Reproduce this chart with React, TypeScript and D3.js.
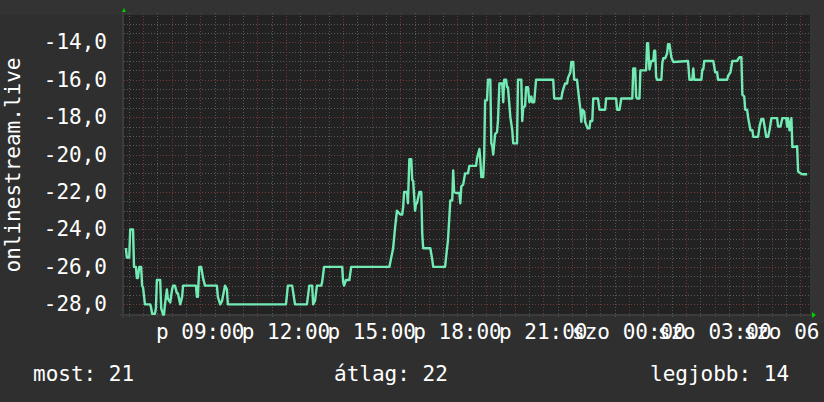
import React from "react";
import * as d3 from "d3";

// minutes after the start of the window (péntek 06:20)
const minutes = [
  4, 6, 11, 13, 19, 21, 25, 27, 29, 32, 36, 38, 40, 44, 55, 57, 59, 65, 67, 69, 76, 78, 82, 84, 86, 90, 92, 97,
  101, 103, 107, 111, 113, 118, 122, 124, 151, 153, 155, 158, 162, 166, 170, 195, 197, 202, 206, 212, 216, 218,
  340, 344, 353, 359, 384, 389, 395, 397, 401, 405, 414, 416, 420, 458, 460, 462, 466, 473, 477, 557, 561, 565,
  569, 573, 580, 584, 586, 588, 594, 596, 599, 603, 605, 607, 611, 613, 615, 620, 624, 626, 628, 643, 647, 649,
  674, 676, 680, 685, 689, 691, 693, 697, 704, 706, 708, 712, 716, 722, 725, 739, 741, 746, 748, 750, 754, 756,
  758, 762, 764, 769, 771, 773, 775, 779, 783, 785, 788, 794, 796, 798, 802, 804, 806, 811, 815, 817, 825, 827,
  834, 836, 838, 842, 844, 848, 851, 855, 857, 861, 865, 901, 903, 918, 920, 922, 926, 930, 932, 937, 939, 943,
  945, 951, 953, 958, 960, 962, 966, 968, 973, 977, 979, 983, 985, 995, 998, 1010, 1012, 1033, 1035, 1040, 1044,
  1067, 1069, 1073, 1075, 1077, 1082, 1084, 1096, 1098, 1100, 1103, 1107, 1111, 1113, 1115, 1117, 1119, 1128,
  1130, 1132, 1136, 1140, 1142, 1145, 1149, 1153, 1184, 1187, 1193, 1195, 1197, 1212, 1214, 1216, 1218, 1237,
  1241, 1245, 1247, 1266, 1268, 1273, 1277, 1287, 1289, 1292, 1296, 1298, 1302, 1304, 1308, 1310, 1315, 1319,
  1321, 1331, 1334, 1338, 1342, 1346, 1348, 1352, 1355, 1359, 1371, 1373, 1378, 1382, 1390, 1392, 1394, 1397,
  1401, 1403, 1413, 1415, 1420, 1424, 1434,
];

const values = [
  -25, -25.5, -25.5, -24, -24, -26, -26, -26.6, -26.6, -26, -26, -27, -27.1, -28, -28, -28.2, -28.5, -28.5, -28.2,
  -26.7, -26.7, -28.2, -28.55, -28.55, -28, -27.2, -27.7, -27.9, -27.2, -27, -27, -27.4, -27.4, -28, -27.6, -27,
  -27, -27.6, -27.6, -26, -26, -26.6, -27, -27, -27.6, -28, -27.8, -27, -27.2, -28,
  -28, -27, -27, -28, -28, -27, -27, -28, -27.8, -27, -27, -26.8, -26, -26, -26.8, -27, -26.7, -26.7, -26, -26,
  -25.5, -25, -23.9, -23, -23.2, -23.2, -22.8, -22, -22, -22.6, -20.25, -20.25, -21.35, -21.4, -23, -22.6, -22.6,
  -22, -22, -24.2, -25, -25, -25.6, -26, -26, -25.5, -24.6, -22.45, -22.45, -20.85, -22, -22.05, -22.05, -22.6,
  -21.7, -21.6, -21, -21, -20.6, -20.6, -20.2, -19.7, -20.3, -21.2, -21.2, -20.1, -17.1, -17.1, -16, -16, -19.4,
  -19.5, -20, -18.9, -18.8, -18.2, -16.2, -16.2, -17.2, -16, -16, -16.4, -16.4, -18, -18.7, -19.4, -19.4, -16,
  -16, -18.2, -17.5, -17.4, -16.4, -16.4, -17.2, -16.9, -17.2, -17.2, -16, -16, -17, -17, -16.7, -16.5, -16.2,
  -16.2, -15.9, -15.6, -15.05, -15.05, -16, -16, -16.5, -17.6, -18.25, -17.6, -17.7, -18.25, -18.6, -18.6, -18.2,
  -18.2, -17, -17, -17.6, -17.6, -17, -17, -17.6, -17.6, -17, -17, -15.4, -15.4, -16.9, -17, -17, -15.5, -15.5,
  -14.05, -14.05, -15.45, -15, -15, -14.45, -14.45, -15.85, -16, -16, -15.1, -14.85, -14.85, -14.6, -14.1, -14.1,
  -14.8, -15.05, -15, -16, -16, -15.4, -16, -16, -15.45, -15.45, -15, -15, -15.6, -15.6, -16, -16, -15.8, -15.6,
  -15, -15, -14.9, -14.8, -14.8, -16.8, -16.9, -17.6, -17.6, -18, -18.7, -18.7, -19.05, -19.05, -18.5, -18.1,
  -18.1, -18.7, -19.05, -19.05, -18.7, -18.05, -18.05, -18.5, -18.5, -18.05, -18.05, -18.5, -18.05, -18.7,
  -18.05, -19.6, -19.55, -20.9, -21, -21.05, -21.05,
];

const yTicks = [-28, -26, -24, -22, -20, -18, -16, -14];
const dayNames = ["v", "h", "k", "sze", "cs", "p", "szo"];
const axisTitle = "onlinestream.live";
const legendLabels = ["most: 21", "átlag: 22", "legjobb: 14"];

const W = 824;
const H = 402;
const L = 124;
const R = 810;
const T = 15;
const B = 315;

const start = new Date(2024, 0, 5, 6, 20);
const end = new Date(start.getTime() + 1440 * 60000);

export default function App() {
  const x = d3.scaleTime().domain([start, end]).range([L, R]);
  const y = d3.scaleLinear().domain([-28.57, -12.54]).range([B, T]);

  const pts = minutes.map((m, i) => [new Date(start.getTime() + m * 60000), values[i]] as [Date, number]);
  const line = d3
    .line<[Date, number]>()
    .x((d) => x(d[0]))
    .y((d) => y(d[1]));

  const minorX = d3.timeMinute.every(30)!.range(start, end);
  const majorX = d3.timeHour.range(start, end);
  const labelX = d3.timeHour.every(3)!.range(start, new Date(end.getTime() + 60000));
  const minorY = d3.range(-28.5, -12.5, 0.5);
  const fmtT = d3.timeFormat("%H:%M");
  const fmtY = (v: number) => d3.format(".1f")(v).replace(".", ",").replace("−", "-");

  const font = "'DejaVu Sans Mono', monospace";
  const minorC = "#585858";
  const majorC = "#733a3a";

  return (
    <svg width={W} height={H} style={{ position: "absolute", left: 0, top: 0 }} fontFamily={font}>
      <rect x={0} y={0} width={W} height={H} fill="#2f2f2f" />
      <rect x={0} y={0} width={W} height={T} fill="#333333" />
      <rect x={R} y={0} width={W - R} height={B + 8} fill="#333333" />
      <rect x={L} y={T} width={R - L} height={B - T} fill="#222222" />
      {minorY.map((v) => (
        <line key={"my" + v} x1={L} x2={R} y1={Math.round(y(v)) + 0.5} y2={Math.round(y(v)) + 0.5}
          stroke={yTicks.includes(v) ? majorC : minorC} strokeDasharray="1,2" strokeWidth={1} />
      ))}
      {minorX.map((d, i) => (
        <line key={"mx" + i} x1={Math.round(x(d)) + 0.5} x2={Math.round(x(d)) + 0.5} y1={T - 2} y2={B + 3}
          stroke={minorC} strokeDasharray="1,2" />
      ))}
      {majorX.map((d, i) => (
        <line key={"Mx" + i} x1={Math.round(x(d)) + 0.5} x2={Math.round(x(d)) + 0.5} y1={T - 2} y2={B + 3}
          stroke={majorC} strokeDasharray="1,2" />
      ))}
      <line x1={L - 1} x2={L - 1} y1={T - 3} y2={B + 3} stroke="#3c3c3c" strokeWidth={2} />
      <line x1={L - 4} x2={R + 3} y1={B} y2={B} stroke="#3c3c3c" strokeWidth={2} />
      <path d={`M${L - 2},${T - 3} L${L + 2},${T - 3} L${L},${T - 7} Z`} fill="#00cc00" />
      <path d={`M${R + 2},${B - 3} L${R + 2},${B + 3} L${R + 6},${B} Z`} fill="#00cc00" />
      <path d={line(pts) || ""} fill="none" stroke="#72eab4" strokeWidth={2.4} strokeLinejoin="round" />
      {yTicks.map((v) => (
        <text key={"yt" + v} x={107} y={y(v) + 7} textAnchor="end" fontSize={21} fill="#ffffff">
          {fmtY(v)}
        </text>
      ))}
      {labelX.map((d, i) => (
        <text key={"xt" + i} x={x(d)} y={339} textAnchor="middle" fontSize={21} fill="#ffffff">
          {dayNames[d.getDay()] + " " + fmtT(d)}
        </text>
      ))}
      <text transform={`translate(20,${(T + B) / 2}) rotate(-90)`} textAnchor="middle" fontSize={21} fill="#ffffff">
        {axisTitle}
      </text>
      <text x={33} y={381} fontSize={21} fill="#ffffff">{legendLabels[0]}</text>
      <text x={334} y={381} fontSize={21} fill="#ffffff">{legendLabels[1]}</text>
      <text x={650} y={381} fontSize={21} fill="#ffffff">{legendLabels[2]}</text>
    </svg>
  );
}
